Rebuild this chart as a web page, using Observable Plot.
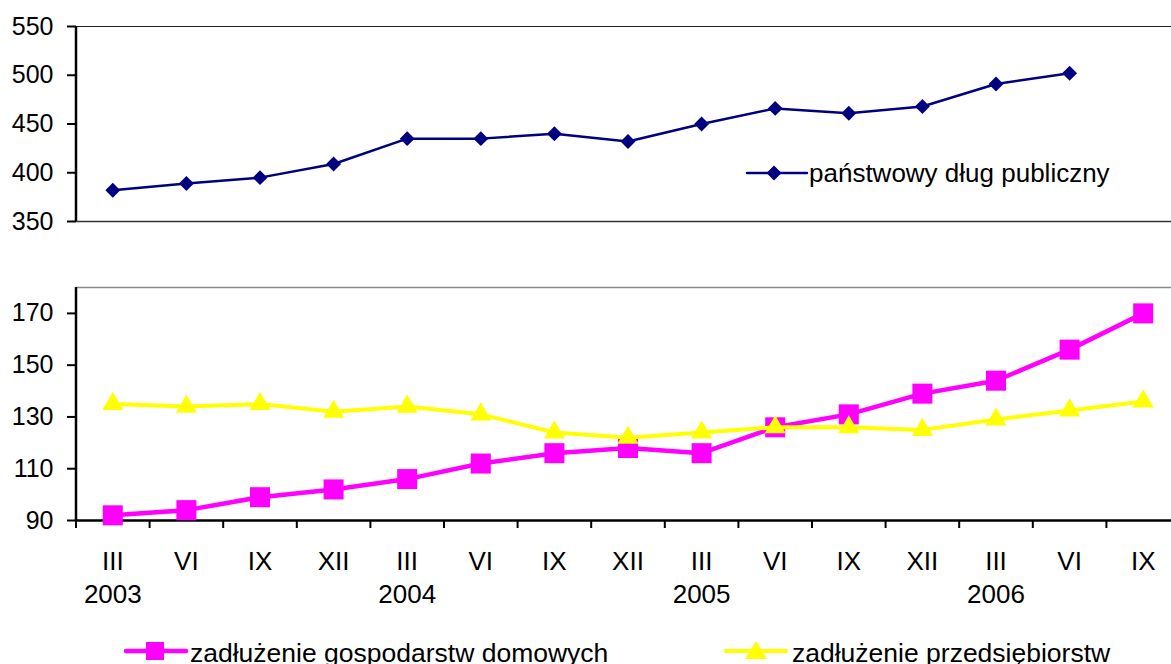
<!DOCTYPE html>
<html><head><meta charset="utf-8">
<script src="https://cdn.jsdelivr.net/npm/d3@7"></script>
<script src="https://cdn.jsdelivr.net/npm/@observablehq/plot@0.6"></script>
<style>
body{margin:0;background:#fff;font-family:Arial,"Liberation Sans",sans-serif;}
#wrap{position:relative;width:1171px;height:664px;overflow:hidden;background:#fff;}
#wrap svg.plot{position:absolute;left:0;}
.leg{position:absolute;font-size:26px;line-height:26px;white-space:nowrap;color:#000;font-family:Arial,"Liberation Sans",sans-serif;}
.leg.b{font-size:26.5px;line-height:26.5px;}
.sw{position:absolute;}
</style></head><body><div id="wrap"></div>
<script>
const quarters = ["III","VI","IX","XII","III","VI","IX","XII","III","VI","IX","XII","III","VI","IX"];
const years = ["2003","2004","2005","2006"];
const yearIdx = [0,4,8,12];
const dlugPubliczny = [382,389,395,409,435,435,440,432,450,466,461,468,491,502,null];
const gospodarstwa = [92,94,99,102,106,112,116,118,116,126,131,139,144,156,170];
const przedsiebiorstwa = [135,134,135,132,134,131,124,122,124,126,126,125,129,132.5,136];
const topTicks = [350,400,450,500,550];
const botTicks = [90,110,130,150,170];

const idx = d3.range(quarters.length);
const topData = idx.map(i => ({i, v: dlugPubliczny[i]}));
const gData = idx.map(i => ({i, v: gospodarstwa[i]}));
const pData = idx.map(i => ({i, v: przedsiebiorstwa[i]}));
const xOpt = {domain: [-0.5, quarters.length - 0.5], range: [75.5, 1179.5]};
const font = "Arial, 'Liberation Sans', sans-serif";

const topPlot = Plot.plot({
  width: 1171, height: 240, marginLeft: 76, marginRight: 0, marginTop: 26, marginBottom: 19,
  x: {...xOpt, axis: null, label: null},
  y: {domain: [350, 550], axis: null, label: null},
  style: {fontFamily: font, fontSize: "25px", color: "#000", background: "transparent", overflow: "hidden"},
  marks: [
    Plot.ruleY([550], {stroke: "#222", strokeWidth: 1.2}),
    Plot.ruleY([350], {stroke: "#333", strokeWidth: 1.5}),
    Plot.axisY(topTicks, {label: null, tickSize: 9, tickPadding: 14, strokeWidth: 2, stroke: "#000", fontSize: 25, fill: "#000"}),
    Plot.ruleX([-0.5], {stroke: "#000", strokeWidth: 2.5}),
    Plot.line(topData, {x: "i", y: "v", stroke: "#000080", strokeWidth: 2.5}),
    Plot.dot(topData.filter(d => d.v != null), {x: "i", y: "v", symbol: "diamond2", fill: "#000080", stroke: "none", r: 6.7})
  ]
});
topPlot.style.top = "0px";

const botPlot = Plot.plot({
  width: 1171, height: 380, marginLeft: 76, marginRight: 0, marginTop: 47, marginBottom: 100,
  x: {...xOpt, axis: null, label: null},
  y: {domain: [90, 180], axis: null, label: null},
  style: {fontFamily: font, fontSize: "25px", color: "#000", background: "transparent", overflow: "hidden"},
  marks: [
    Plot.ruleY([180], {stroke: "#888", strokeWidth: 1.5}),
    Plot.axisY(botTicks, {label: null, tickSize: 9, tickPadding: 14, strokeWidth: 2, stroke: "#000", fontSize: 25, fill: "#000"}),
    Plot.axisX(d3.range(-0.5, quarters.length - 0.5, 1), {label: null, tickSize: 8, strokeWidth: 2, stroke: "#000", tickFormat: () => ""}),
    Plot.axisX(idx, {label: null, tickSize: 0, tickPadding: 31, tickFormat: i => quarters[i], fontSize: 26, fill: "#000"}),
    Plot.axisX(yearIdx, {label: null, tickSize: 0, tickPadding: 64, tickFormat: i => years[yearIdx.indexOf(i)], fontSize: 26, fill: "#000"}),
    Plot.ruleY([90], {stroke: "#000", strokeWidth: 2.5}),
    Plot.ruleX([-0.5], {stroke: "#000", strokeWidth: 2.5}),
    Plot.line(gData, {x: "i", y: "v", stroke: "#FF00FF", strokeWidth: 4.5}),
    Plot.dot(gData, {x: "i", y: "v", symbol: "square", fill: "#FF00FF", stroke: "none", r: 11.3}),
    Plot.line(pData, {x: "i", y: "v", stroke: "#FFFF00", strokeWidth: 4}),
    Plot.dot(pData, {x: "i", y: "v", symbol: "triangle", fill: "#FFFF00", stroke: "none", r: 7.8})
  ]
});
botPlot.style.top = "240px";

const wrap = document.getElementById("wrap");
wrap.appendChild(topPlot);
wrap.appendChild(botPlot);

function swatch(left, top, color, lw, shape) {
  const ns = "http://www.w3.org/2000/svg";
  const s = document.createElementNS(ns, "svg");
  s.setAttribute("width", 64); s.setAttribute("height", 24);
  s.setAttribute("class", "sw");
  s.style.left = left + "px"; s.style.top = top + "px";
  s.innerHTML = `<line x1="2" x2="62" y1="12" y2="12" stroke="${color}" stroke-width="${lw}" stroke-linecap="round"/>` + shape;
  wrap.appendChild(s);
}
function label(left, top, text, cls) {
  const d = document.createElement("div");
  d.className = "leg" + (cls ? " " + cls : ""); d.style.left = left + "px"; d.style.top = top + "px";
  d.textContent = text; wrap.appendChild(d);
}
// top legend
swatch(745, 161, "#000080", 2.5, `<path d="M29,4.5 L36.5,12 L29,19.5 L21.5,12Z" fill="#000080"/>`);
label(809, 160, "państwowy dług publiczny");
// bottom legend
swatch(124, 639, "#FF00FF", 4.5, `<rect x="22" y="3" width="18" height="18" fill="#FF00FF"/>`);
label(190, 640, "zadłużenie gospodarstw domowych", "b");
swatch(724, 639, "#FFFF00", 4, `<path d="M32,2 L43,20 L21,20Z" fill="#FFFF00"/>`);
label(792, 640, "zadłużenie przedsiębiorstw", "b");
</script></body></html>
